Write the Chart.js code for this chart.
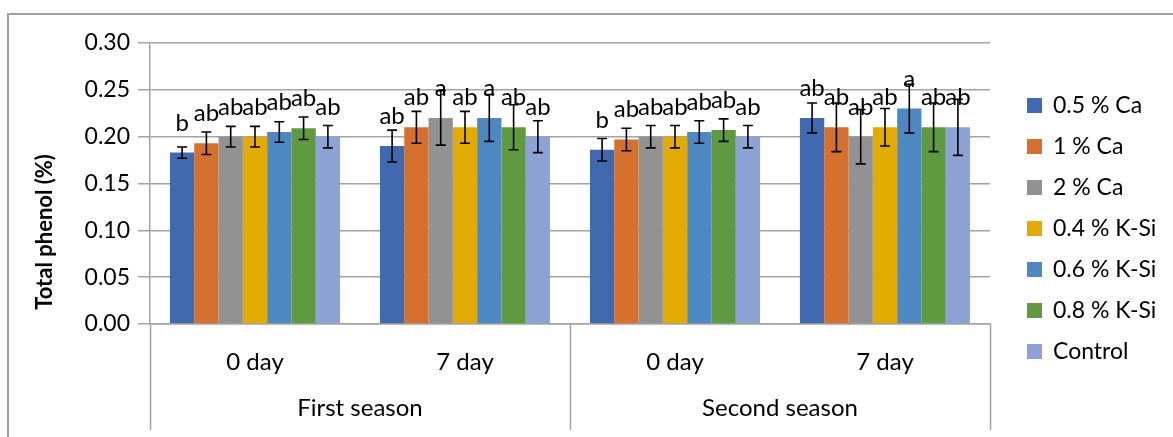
<!DOCTYPE html>
<html>
<head>
<meta charset="utf-8">
<script src="https://cdn.jsdelivr.net/npm/chart.js@4.4.1/dist/chart.umd.min.js"></script>
<style>
  html, body { margin: 0; padding: 0; background: #ffffff; }
  #wrap { width: 1173px; height: 437px; }
</style>
</head>
<body>
<div id="wrap"><canvas id="chart" width="1173" height="437"></canvas></div>
<script>
// Sampling days (inner axis level) and seasons (outer axis level)
const days = ['0 day', '7 day', '0 day', '7 day'];
const seasons = ['First season', 'Second season'];

// Treatments
const seriesNames = ['0.5 % Ca', '1 % Ca', '2 % Ca', '0.4 % K-Si', '0.6 % K-Si', '0.8 % K-Si', 'Control'];
const seriesColors = ['#4169b0', '#d5702f', '#929292', '#e3aa00', '#4e88c2', '#5f9a40', '#8ea3d5'];

// Total phenol (%) per treatment, ordered as in `days`
const ca05    = [0.183, 0.190, 0.186, 0.220];
const ca1     = [0.193, 0.210, 0.197, 0.210];
const ca2     = [0.200, 0.220, 0.200, 0.200];
const ksi04   = [0.200, 0.210, 0.200, 0.210];
const ksi06   = [0.205, 0.220, 0.205, 0.230];
const ksi08   = [0.209, 0.210, 0.207, 0.210];
const control = [0.200, 0.200, 0.200, 0.210];

// Standard error (±)
const ca05Err    = [0.006, 0.017, 0.012, 0.016];
const ca1Err     = [0.012, 0.017, 0.012, 0.026];
const ca2Err     = [0.011, 0.029, 0.012, 0.029];
const ksi04Err   = [0.011, 0.017, 0.012, 0.020];
const ksi06Err   = [0.011, 0.025, 0.012, 0.026];
const ksi08Err   = [0.012, 0.024, 0.012, 0.026];
const controlErr = [0.012, 0.017, 0.012, 0.030];

// Significance letters
const ca05Sig    = ['b', 'ab', 'b', 'ab'];
const ca1Sig     = ['ab', 'ab', 'ab', 'ab'];
const ca2Sig     = ['ab', 'a', 'ab', 'ab'];
const ksi04Sig   = ['ab', 'ab', 'ab', 'ab'];
const ksi06Sig   = ['ab', 'a', 'ab', 'a'];
const ksi08Sig   = ['ab', 'ab', 'ab', 'ab'];
const controlSig = ['ab', 'ab', 'ab', 'ab'];

// Y-axis ticks
const yTicks = [0, 0.05, 0.10, 0.15, 0.20, 0.25, 0.30];

const seriesValues = [ca05, ca1, ca2, ksi04, ksi06, ksi08, control];
const seriesErrors = [ca05Err, ca1Err, ca2Err, ksi04Err, ksi06Err, ksi08Err, controlErr];
const seriesSig    = [ca05Sig, ca1Sig, ca2Sig, ksi04Sig, ksi06Sig, ksi08Sig, controlSig];

const FONT = 'Lato, "Open Sans", sans-serif';
const GRID = '#a3a3a3';

const datasets = seriesNames.map((name, i) => ({
  label: name,
  data: seriesValues[i],
  errors: seriesErrors[i],
  sig: seriesSig[i],
  backgroundColor: seriesColors[i],
  borderWidth: 0,
  categoryPercentage: 0.81,
  barPercentage: 1.0
}));

// White page with the outer frame
const frame = {
  id: 'frame',
  beforeDraw(chart) {
    const c = chart.ctx;
    c.save();
    c.fillStyle = '#ffffff';
    c.fillRect(0, 0, chart.width, chart.height);
    c.strokeStyle = '#a0a0a0';
    c.lineWidth = 2;
    c.beginPath();
    c.moveTo(8, chart.height);
    c.lineTo(8, 14);
    c.lineTo(chart.width, 14);
    c.stroke();
    c.restore();
  }
};

// Error bars and significance letters over each bar
const barExtras = {
  id: 'barExtras',
  afterDatasetsDraw(chart) {
    const c = chart.ctx;
    const y = chart.scales.y;
    c.save();
    chart.data.datasets.forEach((ds, i) => {
      const meta = chart.getDatasetMeta(i);
      meta.data.forEach((bar, j) => {
        const v = ds.data[j], e = ds.errors[j];
        const top = y.getPixelForValue(v + e);
        const bot = y.getPixelForValue(v - e);
        c.strokeStyle = '#000000';
        c.lineWidth = 1.6;
        c.beginPath();
        c.moveTo(bar.x, top); c.lineTo(bar.x, bot);
        c.moveTo(bar.x - 5, top); c.lineTo(bar.x + 5, top);
        c.moveTo(bar.x - 5, bot); c.lineTo(bar.x + 5, bot);
        c.stroke();
      });
    });
    c.fillStyle = '#000000';
    c.font = '24px ' + FONT;
    c.textAlign = 'center';
    c.textBaseline = 'alphabetic';
    chart.data.datasets.forEach((ds, i) => {
      const meta = chart.getDatasetMeta(i);
      meta.data.forEach((bar, j) => {
        c.fillText(ds.sig[j], bar.x, bar.y - 22);
      });
    });
    c.restore();
  }
};

// Outer category level (seasons), dividers, axis title and legend
const decorations = {
  id: 'decorations',
  afterDraw(chart) {
    const c = chart.ctx;
    const x = chart.scales.x;
    const area = chart.chartArea;
    const bottom = 430;
    c.save();
    // dividers between seasons
    const mid = (x.getPixelForValue(1) + x.getPixelForValue(2)) / 2;
    c.strokeStyle = GRID;
    c.lineWidth = 1.5;
    [x.left, mid, x.right].forEach(px => {
      c.beginPath();
      c.moveTo(Math.round(px) + 0.5, area.bottom);
      c.lineTo(Math.round(px) + 0.5, bottom);
      c.stroke();
    });
    // season labels
    c.fillStyle = '#000000';
    c.font = '24px ' + FONT;
    c.textAlign = 'center';
    c.textBaseline = 'middle';
    seasons.forEach((s, k) => {
      const cx = (x.getPixelForValue(2 * k) + x.getPixelForValue(2 * k + 1)) / 2;
      c.fillText(s, cx, 408);
    });
    // y-axis title
    c.save();
    c.translate(45, 232);
    c.rotate(-Math.PI / 2);
    c.font = 'bold 22px ' + FONT;
    c.fillText('Total phenol (%)', 0, 0);
    c.restore();
    // legend
    c.textAlign = 'left';
    c.font = '23px ' + FONT;
    chart.data.datasets.forEach((ds, i) => {
      const cy = 106 + i * 41;
      c.fillStyle = ds.backgroundColor;
      c.fillRect(1027, cy - 8, 15, 15);
      c.fillStyle = '#000000';
      c.fillText(ds.label, 1053, cy);
    });
    c.restore();
  }
};

new Chart(document.getElementById('chart'), {
  type: 'bar',
  data: { labels: days, datasets },
  options: {
    responsive: false,
    animation: false,
    devicePixelRatio: 1,
    layout: { padding: { top: 43, right: 183, left: 0, bottom: 0 } },
    plugins: { legend: { display: false }, tooltip: { enabled: false } },
    scales: {
      x: {
        afterFit(s) { s.height = 113; },
        grid: { display: false },
        border: { display: true, color: GRID, width: 1.5 },
        ticks: { color: '#000000', font: { family: FONT, size: 24 }, padding: 16, maxRotation: 0 }
      },
      y: {
        min: 0,
        max: 0.3,
        afterFit(s) { s.width = 150; },
        afterBuildTicks(s) { s.ticks = yTicks.map(v => ({ value: v })); },
        grid: { color: GRID, lineWidth: 1.5, tickLength: 12 },
        border: { display: true, color: GRID, width: 1.5 },
        ticks: {
          color: '#000000',
          font: { family: FONT, size: 23 },
          padding: 8,
          callback: v => Number(v).toFixed(2)
        }
      }
    }
  },
  plugins: [frame, barExtras, decorations]
});
</script>
</body>
</html>
